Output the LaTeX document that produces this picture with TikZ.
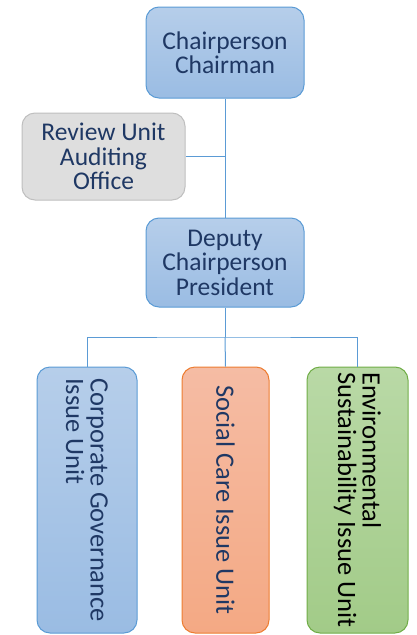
\documentclass[tikz,border=0pt]{standalone}
\usepackage{fontspec}
\setmainfont{Carlito}
\definecolor{navy}{HTML}{1F3864}
\definecolor{bluefillA}{HTML}{B6CEEA}
\definecolor{bluefillB}{HTML}{9ABCE3}
\definecolor{blueline}{HTML}{5B9BD5}
\definecolor{greyfill}{HTML}{DEDEDE}
\definecolor{greyline}{HTML}{BFBFBF}
\definecolor{orfillA}{HTML}{F5BCA4}
\definecolor{orfillB}{HTML}{F4A984}
\definecolor{orline}{HTML}{ED7D31}
\definecolor{grfillA}{HTML}{B9D9A6}
\definecolor{grfillB}{HTML}{A2CB88}
\definecolor{grline}{HTML}{70AD47}
\tikzset{
  x=1pt,y=-1pt,
  box/.style={rounded corners=13pt, line width=1pt, inner sep=0pt, align=center,
     font=\fontsize{25.5}{24.5}\selectfont, text=navy},
  bluebox/.style={box, draw=blueline, top color=bluefillA, bottom color=bluefillB},
  greybox/.style={box, draw=greyline, fill=greyfill},
  orbox/.style={box, draw=orline, top color=orfillA, bottom color=orfillB},
  grbox/.style={box, draw=grline, top color=grfillA, bottom color=grfillB},
  vtext/.style={rotate=-90, align=left, inner sep=0pt, font=\fontsize{26.5}{24.5}\selectfont},
  conn/.style={draw=blueline, line width=1pt}
}
\begin{document}
\begin{tikzpicture}
\useasboundingbox (0,0) rectangle (416,635);
\node[bluebox, minimum width=158pt, minimum height=91pt] (chair) at (225,52.5) {Chairperson\\Chairman};
\node[greybox, minimum width=163pt, minimum height=87pt] (review) at (103.5,156.5) {Review Unit\\Auditing\\Office};
\node[bluebox, minimum width=158pt, minimum height=89pt] (deputy) at (225,262.5) {Deputy\\Chairperson\\President};
\node[bluebox, minimum width=100pt, minimum height=266pt] (corp) at (87,500) {};
\node[orbox, minimum width=87pt, minimum height=266pt] (social) at (225.5,500) {};
\node[grbox, minimum width=101pt, minimum height=266pt] (env) at (357.5,500) {};
\node[vtext, text=navy] (corpt) at (corp.center) {Corporate Governance\\Issue Unit};
\node[vtext, text=navy] (socialt) at (social.center) {Social Care Issue Unit};
\node[vtext, text=black] (envt) at (env.center) {Environmental\\Sustainability Issue Unit};
\coordinate (bus) at (225,337);
\draw[conn] (chair.south) -- (deputy.north);
\draw[conn] (review.east) -- (review.east -| chair.south);
\draw[conn] (deputy.south) -- (bus);
\draw[conn] (corp.north) |- (bus) -| (env.north);
\draw[conn] (bus) -- (social.north);
\end{tikzpicture}
\end{document}
